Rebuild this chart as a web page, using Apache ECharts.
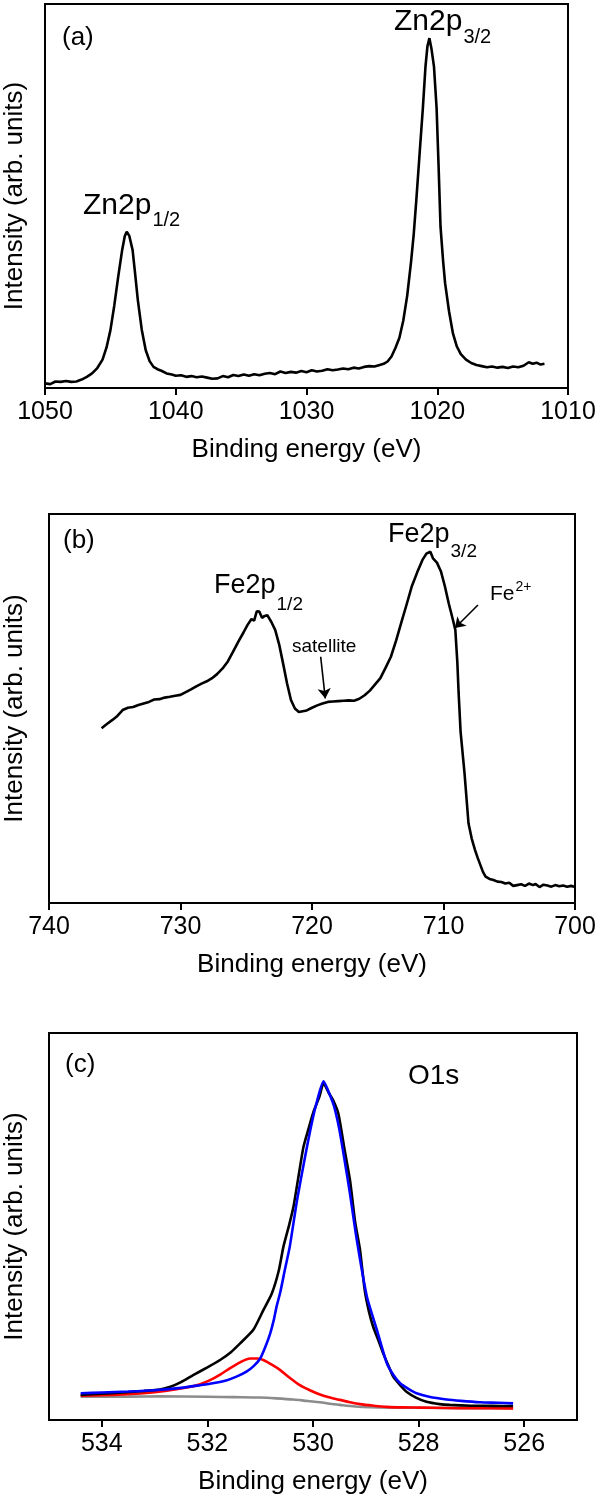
<!DOCTYPE html>
<html>
<head>
<meta charset="utf-8">
<script src="https://cdn.jsdelivr.net/npm/echarts@6/dist/echarts.min.js"></script>
<style>
html,body{margin:0;padding:0;background:#fff;}
#chart{width:600px;height:1503px;}
</style>
</head>
<body>
<div id="chart"></div>
<script>
// ---------- Panel (a): Zn 2p ----------
const znEnergy = [1050.0,1049.6,1049.2,1048.8,1048.4,1048.0,1047.6,1047.2,1046.8,1046.4,1046.0,1045.6,1045.3,1045.0,1044.7,1044.4,1044.1,1043.9,1043.75,1043.55,1043.3,1043.1,1042.9,1042.6,1042.3,1042.0,1041.7,1041.4,1041.1,1040.7,1040.3,1040.0,1039.6,1039.2,1038.8,1038.4,1038.0,1037.6,1037.2,1036.8,1036.4,1036.0,1035.6,1035.2,1034.8,1034.4,1034.0,1033.6,1033.2,1032.8,1032.4,1032.0,1031.6,1031.2,1030.8,1030.4,1030.0,1029.6,1029.2,1028.8,1028.4,1028.0,1027.6,1027.2,1026.8,1026.4,1026.0,1025.6,1025.2,1024.8,1024.4,1024.1,1023.8,1023.5,1023.2,1022.9,1022.6,1022.3,1022.0,1021.8,1021.6,1021.35,1021.1,1020.9,1020.75,1020.6,1020.45,1020.25,1020.05,1019.9,1019.75,1019.55,1019.4,1019.1,1018.8,1018.5,1018.2,1017.8,1017.4,1017.0,1016.6,1016.2,1015.8,1015.4,1015.0,1014.6,1014.2,1013.8,1013.4,1013.0,1012.7,1012.4,1012.1,1011.8];
const znIntensity = [1.2,1.0,1.7,1.6,1.8,1.6,1.7,2.2,2.9,3.8,5.2,7.4,10.5,15.0,21.5,29.0,35.9,39.5,40.7,39.6,35.9,29.5,22.9,15.2,9.9,7.0,5.5,4.9,4.5,3.8,3.5,3.2,3.3,2.9,3.1,2.8,3.0,2.7,2.4,2.5,3.1,2.8,3.4,3.1,3.5,3.2,3.6,3.3,3.7,3.9,3.6,4.3,3.9,4.2,4.0,4.4,4.1,4.6,4.3,4.5,4.9,4.6,4.8,5.1,4.9,5.3,5.1,5.5,5.7,5.6,6.0,6.3,6.9,8.2,10.4,13.0,17.5,24.0,33.0,40.0,49.0,61.0,72.9,83.7,89.0,91.1,88.5,83.7,72.9,58.0,42.0,33.0,27.3,20.0,14.2,10.8,8.8,7.4,6.5,6.0,5.7,5.4,5.6,5.3,5.5,5.2,5.6,5.4,5.8,6.7,6.3,6.6,6.1,6.3];
const znTicks = [1050, 1040, 1030, 1020, 1010];

// ---------- Panel (b): Fe 2p ----------
const feEnergy = [736.0,735.6,735.2,734.8,734.4,734.0,733.6,733.2,732.8,732.4,732.0,731.6,731.2,730.8,730.4,730.0,729.6,729.2,728.8,728.4,728.0,727.6,727.2,726.8,726.4,726.0,725.6,725.2,724.9,724.6,724.4,724.2,724.0,723.8,723.6,723.4,723.1,722.8,722.5,722.2,721.9,721.6,721.3,721.0,720.7,720.4,720.0,719.6,719.2,718.8,718.4,718.0,717.6,717.2,716.8,716.4,716.0,715.6,715.2,714.8,714.4,714.0,713.6,713.2,712.8,712.4,712.0,711.6,711.3,711.0,710.8,710.5,710.2,709.9,709.6,709.3,709.1,708.95,708.85,708.7,708.4,708.1,707.85,707.6,707.4,707.2,707.0,706.8,706.5,706.2,705.9,705.6,705.3,705.0,704.7,704.4,704.1,703.8,703.5,703.2,703.0,702.7,702.4,702.1,701.8,701.5,701.2,700.9,700.6,700.3,700.05];
const feIntensity = [44.9,46.0,47.0,48.1,49.6,50.2,50.4,50.9,51.3,51.7,52.3,52.4,52.8,53.0,53.3,53.5,54.2,54.9,55.7,56.4,57.0,57.8,58.9,60.3,62.1,64.6,67.2,69.6,71.5,73.0,72.6,75.0,74.9,73.3,73.8,74.0,72.3,70.2,66.5,61.6,56.5,52.2,50.0,49.1,49.3,49.5,50.2,50.8,51.3,51.7,51.8,51.9,52.0,52.1,52.0,52.5,53.4,54.6,56.2,57.8,60.5,63.3,67.5,72.2,76.8,81.5,85.0,88.2,89.8,90.3,88.6,87.5,85.3,81.5,77.0,73.0,70.2,62.0,54.0,44.0,33.3,20.5,16.5,13.6,11.6,9.8,8.0,6.8,6.2,5.9,5.5,5.4,5.0,5.2,4.4,4.6,4.8,4.4,5.0,4.6,4.9,4.1,4.7,4.5,4.2,4.6,4.3,4.5,4.2,4.4,4.2];
const feTicks = [740, 730, 720, 710, 700];

// ---------- Panel (c): O 1s ----------
const oEnergy = [534.4,534.0,533.6,533.2,532.9,532.7,532.5,532.27,532.0,531.76,531.55,531.38,531.13,530.94,530.78,530.65,530.56,530.45,530.37,530.28,530.18,530.08,529.99,529.88,529.80,529.70,529.62,529.52,529.41,529.30,529.20,529.11,529.02,528.94,528.86,528.76,528.67,528.57,528.48,528.35,528.23,528.05,527.85,527.6,527.41,527.0,526.6,526.21];
const oMeasured = [6.5,6.8,7.1,7.5,7.9,8.6,9.8,11.6,13.6,15.5,17.6,19.8,23.3,28.4,32.7,38.5,44.8,50.5,55.1,62.5,70.6,75.5,79.7,83.5,87.0,84.5,82.7,79.2,70.5,62.0,51.0,44.0,33.5,28.0,24.1,20.5,17.2,14.0,11.2,9.0,7.3,5.8,4.7,4.1,3.9,3.7,3.65,3.6];
const fitEnergy = [534.4,534.0,533.5,533.0,532.5,532.14,531.9,531.63,531.45,531.26,531.12,531.0,530.9,530.81,530.74,530.69,530.62,530.53,530.44,530.30,530.15,530.05,529.95,529.80,529.68,529.60,529.50,529.40,529.30,529.17,528.98,528.79,528.60,528.47,528.35,528.2,528.04,527.8,527.47,527.2,526.84,526.5,526.21];
const fitMain = [6.9,7.1,7.35,7.7,8.3,9.0,9.5,10.3,11.2,12.5,14.0,15.9,19.0,22.4,26.0,29.3,33.0,39.0,44.8,57.0,68.0,75.0,81.0,87.5,84.0,81.0,75.0,67.0,58.5,46.5,31.9,23.3,14.6,11.5,9.5,8.1,6.9,6.0,5.3,4.95,4.6,4.45,4.3];
const compEnergy = [534.4,534.0,533.6,533.21,532.8,532.39,532.15,531.95,531.75,531.57,531.38,531.19,531.05,530.94,530.78,530.62,530.44,530.25,530.06,529.87,529.68,529.49,529.3,529.11,528.85,528.60,528.3,527.97,527.5,527.0,526.21];
const fitSecond = [6.3,6.4,6.6,6.9,7.5,8.4,9.2,10.3,11.8,13.4,14.9,15.9,15.9,15.5,14.3,12.9,10.9,9.0,7.7,6.6,5.8,5.2,4.6,4.1,3.7,3.4,3.25,3.2,3.1,3.05,3.0];
const bgEnergy = [534.4,533.5,532.9,532.0,531.5,531.0,530.7,530.37,530.1,529.87,529.68,529.49,529.2,528.92,528.5,527.97,527.0,526.21];
const background = [6.0,6.05,6.1,6.0,5.9,5.8,5.6,5.3,4.9,4.6,4.2,3.9,3.5,3.3,3.2,3.15,3.05,3.0];
const oTicks = [534, 532, 530, 528, 526];

// ---------- Annotation arrows (data coordinates of panel b) ----------
const arrowSatellite = [[719.34, 63.3], [718.99, 52.6]];
const arrowFe2 = [[707.38, 76.6], [709.13, 70.7]];

const pairs = (xs, ys) => xs.map((x, i) => [x, ys[i]]);
const FONT = '"Liberation Sans", Arial, sans-serif';

const measureCtx = document.createElement('canvas').getContext('2d');
function textWidth(t, size) {
  measureCtx.font = size + 'px ' + FONT;
  return measureCtx.measureText(t).width;
}

const grids = [
  {left: 45, right: 32, top: 4, height: 384},
  {left: 49, right: 25, top: 514, height: 389},
  {left: 49, right: 23, top: 1033, height: 387}
].map(g => Object.assign(g, {show: true, borderColor: '#000', borderWidth: 2,
  backgroundColor: 'transparent', containLabel: false, outerBoundsMode: 'none'}));

function xAxisOf(idx, min, max, ticks, interval) {
  const ax = {
    gridIndex: idx, type: 'value', min: min, max: max, inverse: true,
    name: 'Binding energy (eV)', nameLocation: 'middle', nameGap: 49,
    nameTextStyle: {fontSize: 26, color: '#000', fontFamily: FONT},
    axisLine: {show: true, lineStyle: {color: '#000', width: 2}},
    axisTick: {show: true, inside: false, length: 7, lineStyle: {color: '#000', width: 2}},
    axisLabel: {show: true, margin: 12, fontSize: 25, color: '#000', fontFamily: FONT,
      formatter: v => String(v)},
    splitLine: {show: false}
  };
  if (interval) {
    ax.interval = interval;
  } else {
    ax.axisTick.customValues = ticks;
    ax.axisLabel.customValues = ticks;
  }
  return ax;
}
function yAxisOf(idx, gap) {
  return {
    gridIndex: idx, type: 'value', min: 0, max: 100,
    name: 'Intensity (arb. units)', nameLocation: 'middle', nameGap: gap,
    nameTextStyle: {fontSize: 26, color: '#000', fontFamily: FONT},
    axisLine: {show: true, lineStyle: {color: '#000', width: 2}},
    axisTick: {show: false}, axisLabel: {show: false}, splitLine: {show: false}
  };
}
function lineSeries(idx, data, color, width, extra) {
  return Object.assign({
    type: 'line', xAxisIndex: idx, yAxisIndex: idx, data: data,
    showSymbol: false, symbol: 'none', smooth: false, animation: false,
    color: color, lineStyle: {color: color, width: width}, z: 3
  }, extra || {});
}

const arrowMark = {
  silent: true, symbol: ['none', 'arrow'], symbolSize: 10, animation: false,
  itemStyle: {color: '#000'},
  lineStyle: {color: '#000', width: 1.6, type: 'solid'}, label: {show: false},
  emphasis: {disabled: true},
  data: [
    [{coord: arrowSatellite[0]}, {coord: arrowSatellite[1]}],
    [{coord: arrowFe2[0]}, {coord: arrowFe2[1]}]
  ]
};

function txt(text, x, y, size) {
  return {type: 'text', x: x, y: y, z: 10, silent: true,
    style: {text: text, fill: '#000', font: size + 'px ' + FONT, align: 'left', verticalAlign: 'middle'}};
}
// main text followed by a sub- or superscript right after it
function withIndex(main, idx, x, y, size, idxSize, idxY) {
  const w = textWidth(main, size);
  return [txt(main, x, y, size), txt(idx, x + w + 1, idxY, idxSize)];
}

const option = {
  animation: false,
  backgroundColor: '#fff',
  textStyle: {fontFamily: FONT},
  grid: grids,
  xAxis: [
    xAxisOf(0, 1010, 1050, znTicks, 10),
    xAxisOf(1, 700, 740, feTicks, 10),
    xAxisOf(2, 525, 535, oTicks, null)
  ],
  yAxis: [yAxisOf(0, 17), yAxisOf(1, 21), yAxisOf(2, 21)],
  series: [
    lineSeries(0, pairs(znEnergy, znIntensity), '#000', 2.6),
    lineSeries(1, pairs(feEnergy, feIntensity), '#000', 2.6, {markLine: arrowMark}),
    lineSeries(2, pairs(bgEnergy, background), '#8c8c8c', 2.6, {smooth: 0.3}),
    lineSeries(2, pairs(compEnergy, fitSecond), '#ff0000', 2.6, {smooth: 0.3}),
    lineSeries(2, pairs(oEnergy, oMeasured), '#000', 2.6, {smooth: 0.2}),
    lineSeries(2, pairs(fitEnergy, fitMain), '#0000ff', 2.6, {smooth: 0.2})
  ],
  graphic: [].concat(
    [txt('(a)', 62, 38, 26)],
    withIndex('Zn2p', '3/2', 394, 22, 30, 20, 37),
    withIndex('Zn2p', '1/2', 83, 206, 30, 20, 220),
    [txt('(b)', 63, 541, 26)],
    withIndex('Fe2p', '3/2', 388, 535, 27, 19, 552),
    withIndex('Fe2p', '1/2', 214, 586, 27, 19, 605),
    [txt('satellite', 292, 647, 19)],
    withIndex('Fe', '2+', 490, 594, 21, 14, 587),
    [txt('(c)', 65, 1065, 26), txt('O1s', 408, 1076, 28)]
  )
};

const chart = echarts.init(document.getElementById('chart'), null, {renderer: 'canvas'});
chart.setOption(option);
</script>
</body>
</html>
